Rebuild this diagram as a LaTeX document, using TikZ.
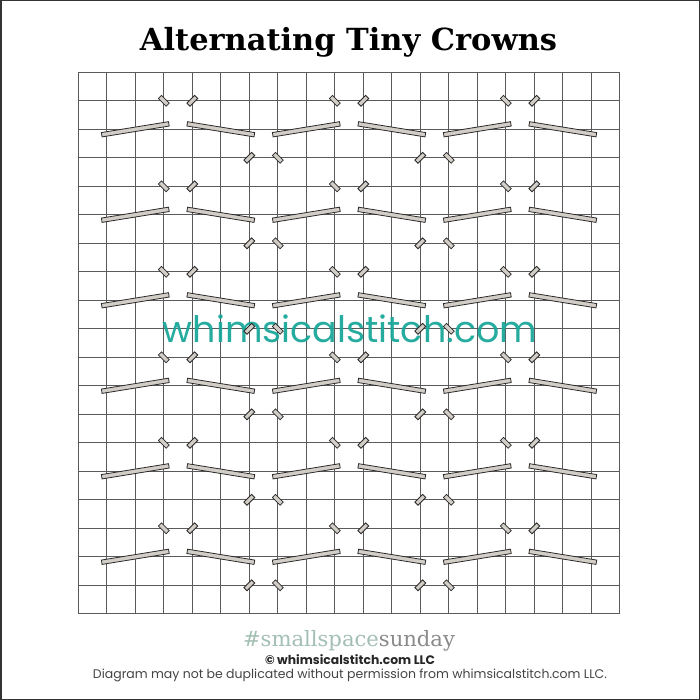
\documentclass[tikz,border=0pt]{standalone}
\usepackage{fontspec}
\usepackage{graphicx}
\setmainfont{DejaVu Serif}
\newfontfamily\titlefont{DejaVu Serif}
\newfontfamily\popfont{Poppins}
\definecolor{gridgray}{HTML}{5A5A5A}
\definecolor{stitchfill}{HTML}{D3CDC7}
\definecolor{stitchline}{HTML}{2A2A2A}
\definecolor{teal}{HTML}{1AA89A}
\definecolor{sage}{HTML}{A3BFB3}
\definecolor{hashgray}{HTML}{8A8A8A}
\definecolor{txtgray}{HTML}{444444}
\tikzset{
  gridline/.style={draw=gridgray, line width=1.1pt},
  longst/.style={rectangle, draw=stitchline, fill=stitchfill, line width=0.8pt,
    minimum width=68pt, minimum height=4.4pt, inner sep=0pt},
  smallst/.style={rectangle, draw=stitchline, fill=stitchfill, line width=0.8pt,
    minimum width=11pt, minimum height=4.4pt, inner sep=0pt},
  txt/.style={inner sep=0pt, anchor=base}
}
\begin{document}
\begin{tikzpicture}[x=1pt,y=-1pt]
\useasboundingbox (0,0) rectangle (700,700);
\fill[white] (0,0) rectangle (700,700);
\draw[black!80, line width=1.5pt] (0.75,0.75) rectangle (699.25,699.25);
% grid
\foreach \i in {0,...,19} {
  \draw[gridline] ({78.3+28.5*\i},72.3) -- ({78.3+28.5*\i},613.8);
  \draw[gridline] (78.3,{72.3+28.5*\i}) -- (619.8,{72.3+28.5*\i});
}
% watermark
\node[txt, text=teal, opacity=0.95] (wm) at (350,342) {\resizebox{374pt}{!}{\popfont whimsicalstitch.com}};
% stitches
\foreach \m in {0,...,5} {
  \pgfmathsetmacro\ry{72.3+28.5*(1+3*\m)}
  \pgfmathsetmacro\ly{72.3+28.5*(2+3*\m)}
  \pgfmathsetmacro\iy{72.3+28.5*(3+3*\m)}
  \foreach \k in {0,1,2} {
    \pgfmathsetmacro\cx{78.3+28.5*6*\k}
    \node[smallst, rotate=-45] (cl-\m-\k) at ({\cx+28.5*3},\ry) {};
    \node[smallst, rotate=45]  (cr-\m-\k) at ({\cx+28.5*4},\ry) {};
    \node[longst, rotate=9.2]  (ll-\m-\k) at ({\cx+28.5*2},\ly) {};
    \node[longst, rotate=-9.2] (lr-\m-\k) at ({\cx+28.5*5},\ly) {};
  }
  \foreach \k in {0,1} {
    \pgfmathsetmacro\cx{78.3+28.5*6*\k}
    \node[smallst, rotate=45]  (il-\m-\k) at ({\cx+28.5*6},\iy) {};
    \node[smallst, rotate=-45] (ir-\m-\k) at ({\cx+28.5*7},\iy) {};
  }
}
% texts
\node[txt] (title) at (348.5,50.5) {\resizebox{417pt}{!}{\titlefont\bfseries Alternating Tiny Crowns}};
\node[txt] (hash) at (349,646.5) {\resizebox{212pt}{!}{\titlefont\color{sage}\#smallspace\color{hashgray}sunday}};
\node[txt] (copy) at (350,664.5) {\resizebox{170pt}{!}{\popfont\bfseries\color{black!85}\textcopyright{} whimsicalstitch.com LLC}};
\node[txt] (perm) at (350,678.5) {\resizebox{514pt}{!}{\popfont\color{txtgray}Diagram may not be duplicated without permission from whimsicalstitch.com LLC.}};
\end{tikzpicture}
\end{document}
